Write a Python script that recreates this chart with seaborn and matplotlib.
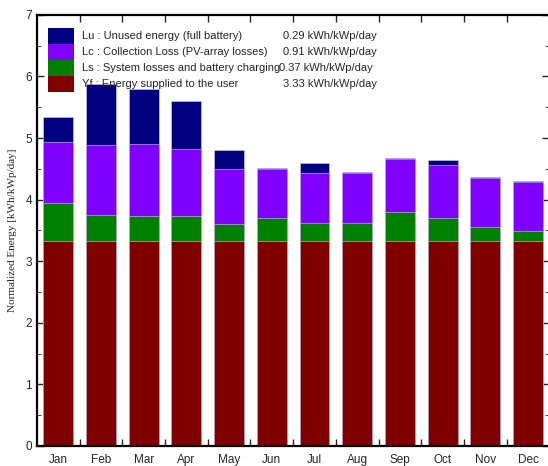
import numpy as np
import pandas as pd
import matplotlib
matplotlib.use("Agg")
import matplotlib.pyplot as plt
from matplotlib.patches import Rectangle
from matplotlib.ticker import MultipleLocator, FixedLocator
import seaborn as sns

months = ["Jan", "Feb", "Mar", "Apr", "May", "Jun", "Jul", "Aug", "Sep", "Oct", "Nov", "Dec"]
# normalized energies per month [kWh/kWp/day]
yf = [3.33, 3.33, 3.33, 3.33, 3.33, 3.33, 3.33, 3.33, 3.33, 3.33, 3.33, 3.33]
ls = [0.61, 0.42, 0.41, 0.41, 0.28, 0.37, 0.29, 0.29, 0.47, 0.37, 0.22, 0.16]
lc = [0.99, 1.14, 1.16, 1.08, 0.89, 0.80, 0.81, 0.81, 0.86, 0.86, 0.80, 0.80]
lu = [0.42, 0.99, 0.90, 0.78, 0.31, 0.02, 0.17, 0.02, 0.02, 0.09, 0.02, 0.01]

legend_labels = ["Lu : Unused energy (full battery)",
                 "Lc : Collection Loss (PV-array losses)",
                 "Ls : System losses and battery charging",
                 "Yf : Energy supplied to the user"]
legend_values = ["0.29 kWh/kWp/day", "0.91 kWh/kWp/day", "0.37 kWh/kWp/day", "3.33 kWh/kWp/day"]
colors = ["#000080", "#8000ff", "#008000", "#800000"]

df = pd.DataFrame({"month": months, "Yf": yf, "Ls": ls, "Lc": lc, "Lu": lu})
df["c_yf"] = df["Yf"]
df["c_ls"] = df["c_yf"] + df["Ls"]
df["c_lc"] = df["c_ls"] + df["Lc"]
df["c_lu"] = df["c_lc"] + df["Lu"]

sns.set_style("white")
plt.rcParams["font.family"] = ["Liberation Sans", "DejaVu Sans"]
fig = plt.figure(figsize=(5.48, 4.66), dpi=100)
ax = fig.add_axes([0.0675, 0.043, 0.935, 0.925])

# stacked look: draw the cumulative totals from tallest to shortest
for col, c in zip(["c_lu", "c_lc", "c_ls", "c_yf"], colors):
    sns.barplot(data=df, x="month", y=col, color=c, saturation=1, width=0.7,
                edgecolor="#d8ccf0", linewidth=0.4, ax=ax)

ax.set_ylim(0, 7)
ax.set_xlim(-0.5, 11.5)
ax.set_xlabel("")
ax.set_ylabel("Normalized Energy [kWh/kWp/day]", family="Liberation Serif", fontsize=8, labelpad=6)

ax.yaxis.set_major_locator(MultipleLocator(1))
ax.yaxis.set_minor_locator(MultipleLocator(0.5))
ax.xaxis.set_minor_locator(FixedLocator(np.arange(0.5, 11.5, 1)))
ax.tick_params(axis="x", which="major", length=0, labelsize=8.5, pad=6)
ax.tick_params(axis="y", which="major", direction="in", length=5, labelsize=8.5,
               left=True, right=True, width=1)
ax.tick_params(axis="y", which="minor", direction="in", length=3, left=True, right=True)
ax.tick_params(axis="x", which="minor", direction="in", length=5, bottom=True, top=True, width=1)

for s in ax.spines.values():
    s.set_color("black")
    s.set_linewidth(1.6)
    s.set_visible(True)

# legend block in the upper left
row_h = 0.037
for i, (lab, val, c) in enumerate(zip(legend_labels, legend_values, colors)):
    yb = 0.975 - (i + 1) * row_h - 0.005
    ax.add_patch(Rectangle((0.022, yb), 0.05, row_h, transform=ax.transAxes,
                           facecolor=c, edgecolor="none", clip_on=False))
    ax.text(0.087, yb + row_h / 2, lab, transform=ax.transAxes, fontsize=8,
            va="center", ha="left")
    ax.text(0.472 if i == 2 else 0.481, yb + row_h / 2, val, transform=ax.transAxes,
            fontsize=8, va="center", ha="left")

fig.savefig("out.png", dpi=100)
